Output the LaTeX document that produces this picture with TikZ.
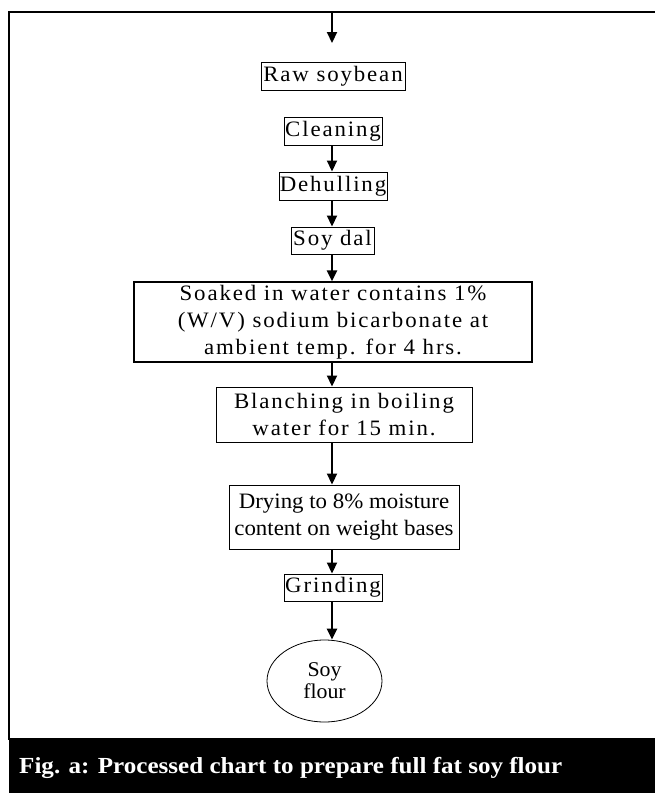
\documentclass[tikz,border=0pt]{standalone}
\usepackage{fontspec}
\setmainfont{Liberation Serif}
\newfontfamily\trkfont[LetterSpace=8.5,FakeStretch=1.04]{Liberation Serif}
\newfontfamily\plainfnt[FakeStretch=1.04]{Liberation Serif}
\newfontfamily\capfnt[FakeStretch=1.09]{Liberation Serif}
\usetikzlibrary{arrows.meta,shapes.geometric}
\tikzset{
  stepbox/.style={draw, line width=1pt, inner sep=0pt, align=center,
    font=\trkfont\fontsize{22}{27}\selectfont},
  plainbox/.style={draw, line width=1pt, inner sep=0pt, align=center,
    font=\plainfnt\fontsize{22}{27}\selectfont},
  endnode/.style={draw, ellipse, line width=0.8pt, inner sep=0pt, align=center,
    font=\plainfnt\fontsize{21}{22}\selectfont},
  arr/.style={line width=2.2pt, -{Triangle[width=10pt,length=11pt]}},
}
\begin{document}
\begin{tikzpicture}[x=1pt,y=-1pt]
\useasboundingbox (0,0) rectangle (655,793);
% frame
\draw[line width=2pt] (655,12) -- (9,12) -- (9,740);
\fill[black] (9,738) rectangle (655,793);
\node[anchor=base west, text=white, inner sep=0pt,
  font=\capfnt\bfseries\fontsize{23}{26}\selectfont] (cap) at (19,773)
  {Fig. a: Processed chart to prepare full fat soy flour};
% nodes
\node[stepbox, minimum width=144pt, minimum height=28pt] (raw) at (333,76) {Raw soybean};
\node[stepbox, minimum width=98pt, minimum height=28pt] (clean) at (333,131) {Cleaning};
\node[stepbox, minimum width=108pt, minimum height=28pt] (dehull) at (333,186) {Dehulling};
\node[stepbox, minimum width=83pt, minimum height=27pt] (dal) at (332.5,240.5) {Soy dal};
\node[stepbox, line width=1.3pt, minimum width=398pt, minimum height=80pt] (soak) at (333,322)
  {Soaked in water contains 1\%\\(W/V) sodium bicarbonate at\\ambient temp. for 4 hrs.};
\node[stepbox, minimum width=256pt, minimum height=55pt] (blanch) at (344,414.5)
  {Blanching in boiling\\water for 15 min.};
\node[plainbox, minimum width=230pt, minimum height=64pt] (dry) at (344,517)
  {Drying to 8\% moisture\\content on weight bases};
\node[stepbox, minimum width=98pt, minimum height=27pt] (grind) at (333,587.5) {Grinding};
\node[endnode, minimum width=115pt, minimum height=82pt] (flour) at (324.5,681) {Soy\\flour};
% connectors
\coordinate (ax) at (332,0);
\coordinate (top) at (332,12);
\coordinate (topend) at (332,43);
\draw[arr] (top) -- (topend);
\draw[arr] (ax |- clean.south) -- (ax |- dehull.north);
\draw[arr] (ax |- dehull.south) -- (ax |- dal.north);
\draw[arr] (ax |- dal.south) -- (ax |- soak.north);
\draw[arr] (ax |- soak.south) -- (ax |- blanch.north);
\draw[arr] (ax |- blanch.south) -- (ax |- dry.north);
\draw[arr] (ax |- dry.south) -- (ax |- grind.north);
\draw[arr] (ax |- grind.south) -- (ax |- flour.north);
\end{tikzpicture}
\end{document}
